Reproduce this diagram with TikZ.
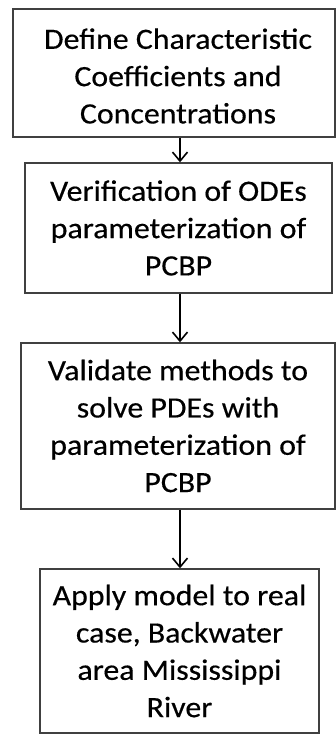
\documentclass[tikz,border=0pt]{standalone}
\usepackage{fontspec}
\setmainfont{Carlito}
\newfontfamily\boxfont[FakeStretch=1.08,FakeBold=0.4]{Carlito}
\usetikzlibrary{arrows.meta}
\begin{document}
\begin{tikzpicture}[x=1pt,y=-1pt,
  stepbox/.style={draw=black!75, line width=1.4pt, rectangle, align=center,
    inner sep=0pt, font=\boxfont\fontsize{29.5}{37.3}\selectfont},
  flow/.style={-{Straight Barb[length=9pt,width=15pt,line width=1.6pt]}, line width=1.6pt, black}]
\useasboundingbox (0,0) rectangle (336,734);
\node[stepbox, minimum width=322pt, minimum height=128pt] (a) at (174,73) {};
\node[align=center, inner sep=0pt, font=\boxfont\fontsize{29.5}{37.3}\selectfont] (at) at (178,76)
  {Define Characteristic\\Coefficients and\\Concentrations};
\node[stepbox, minimum width=307pt, minimum height=130pt] (b) at (178.5,228)
  {Verification of ODEs\\parameterization of\\PCBP};
\node[stepbox, minimum width=314pt, minimum height=166pt] (c) at (178,426)
  {Validate methods to\\solve PDEs with\\parameterization of\\PCBP};
\node[stepbox, minimum width=279pt, minimum height=164pt] (d) at (179.5,651)
  {Apply model to real\\case, Backwater\\area Mississippi\\River};
\draw[flow] (a.south -| 180,0) -- (b.north -| 180,0);
\draw[flow] (b.south -| 180,0) -- (c.north -| 180,0);
\draw[flow] (c.south -| 180,0) -- (d.north -| 180,0);
\end{tikzpicture}
\end{document}
